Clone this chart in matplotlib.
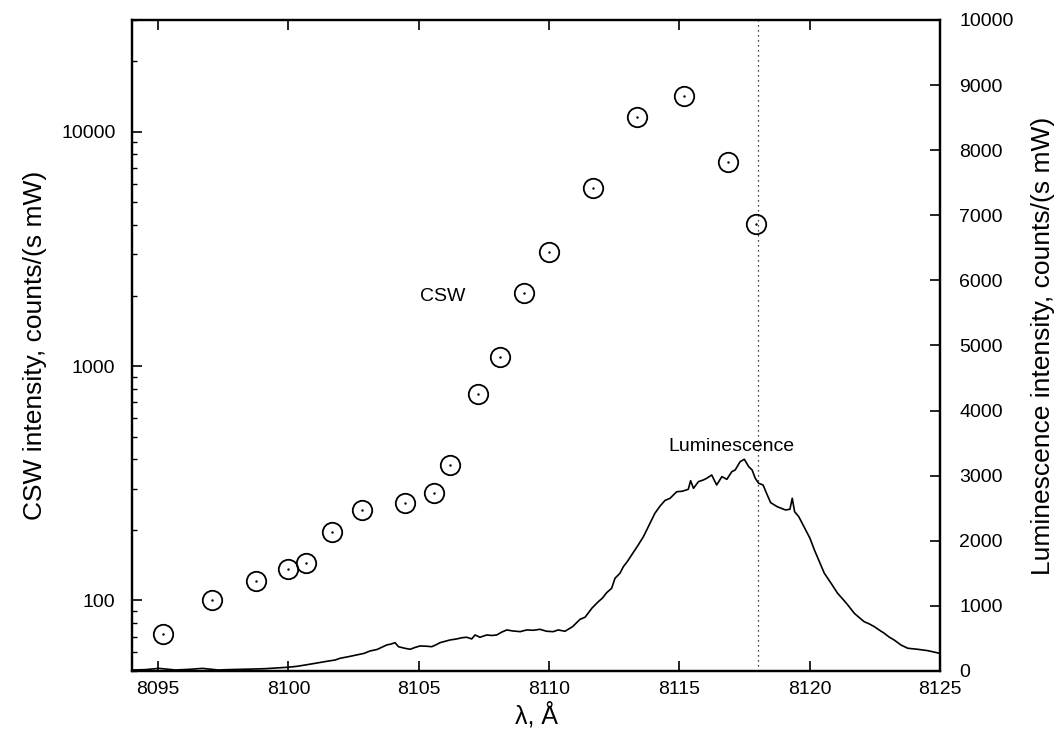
import matplotlib
matplotlib.use("Agg")
import matplotlib.pyplot as plt
from matplotlib.ticker import LogLocator, NullFormatter, FixedLocator

plt.rcParams['font.family'] = ['Liberation Sans', 'DejaVu Sans']

# CSW points (wavelength in A, intensity in counts/(s mW))
csw_wl = [8095.20, 8097.08, 8098.75, 8100.00, 8100.67, 8101.69, 8102.81, 8104.47,
          8105.59, 8106.20, 8107.27, 8108.12, 8109.03, 8110.00, 8111.67, 8113.36,
          8115.18, 8116.85, 8117.94]
csw_val = [72, 100, 121, 136, 145, 195, 243, 261,
           288, 379, 763, 1092, 2059, 3070, 5744, 11610,
           14230, 7440, 4055]

# luminescence spectrum, traced
lum_wl = [8094.0, 8094.5, 8095.03, 8095.66, 8096.2, 8096.7, 8097.3, 8097.8, 8098.2, 8098.7,
          8099.1, 8099.5, 8099.97, 8100.3, 8100.65, 8101.16, 8101.5, 8101.8, 8101.98, 8102.31,
          8102.62, 8102.9, 8103.13, 8103.4, 8103.58, 8103.77, 8103.95, 8104.09, 8104.22, 8104.45,
          8104.67, 8104.85, 8105.05, 8105.3, 8105.5, 8105.65, 8105.82, 8106.0, 8106.2, 8106.46,
          8106.65, 8106.84, 8107.03, 8107.16, 8107.35, 8107.61, 8107.8, 8107.99, 8108.2, 8108.38,
          8108.6, 8108.89, 8109.14, 8109.4, 8109.65, 8109.9, 8110.16, 8110.35, 8110.61, 8110.9,
          8111.19, 8111.38, 8111.64, 8111.89, 8112.05, 8112.21, 8112.4, 8112.53, 8112.72, 8112.85,
          8113.0, 8113.17, 8113.42, 8113.62, 8113.87, 8114.06, 8114.26, 8114.45, 8114.64, 8114.9,
          8115.1, 8115.34, 8115.43, 8115.54, 8115.73, 8115.92, 8116.05, 8116.24, 8116.43, 8116.63,
          8116.82, 8117.01, 8117.14, 8117.33, 8117.49, 8117.66, 8117.79, 8117.91, 8118.04, 8118.21,
          8118.37, 8118.5, 8118.75, 8119.07, 8119.24, 8119.33, 8119.42, 8119.58, 8119.78, 8120.01,
          8120.18, 8120.4, 8120.56, 8120.82, 8121.07, 8121.3, 8121.46, 8121.71, 8121.9, 8122.09,
          8122.3, 8122.48, 8122.7, 8122.86, 8123.05, 8123.24, 8123.5, 8123.76, 8124.14, 8124.53,
          8124.97]
lum_val = [15, 20, 40, 15, 25, 40, 15, 22, 25, 30,
           35, 45, 57, 70, 92, 127, 150, 169, 195, 220,
           246, 270, 307, 330, 364, 399, 415, 435, 373, 350,
           333, 360, 384, 380, 373, 400, 435, 455, 476, 492,
           510, 518, 492, 553, 518, 553, 545, 553, 600, 630,
           615, 604, 630, 625, 640, 610, 604, 630, 610, 680,
           794, 825, 963, 1065, 1120, 1203, 1270, 1424, 1501, 1602,
           1680, 1782, 1935, 2063, 2269, 2422, 2534, 2620, 2652, 2754,
           2760, 2790, 2923, 2806, 2908, 2934, 2960, 3010, 2857, 2985,
           2944, 3061, 3087, 3215, 3252, 3138, 3087, 2960, 2883, 2857,
           2704, 2586, 2524, 2473, 2484, 2653, 2447, 2370, 2216, 2038,
           1858, 1650, 1501, 1347, 1193, 1090, 1014, 886, 820, 757,
           720, 680, 620, 579, 520, 476, 399, 349, 333, 312,
           272]

marker_line = 8118.0

fig = plt.figure(figsize=(10.64, 7.37), dpi=100)
ax = fig.add_axes([0.1241, 0.0896, 0.7594, 0.8833])
ax2 = ax.twinx()

ax.set_yscale('log')
ax.set_xlim(8094, 8125)
ax.set_ylim(50, 30000)
ax2.set_ylim(0, 10000)

ax2.plot(lum_wl, lum_val, color='black', lw=1.2)
ax.axvline(marker_line, color='black', lw=0.9, ls=(0, (1, 3)))
ax.plot(csw_wl, csw_val, 'o', ms=14, mfc='none', mec='black', mew=1.3)
ax.plot(csw_wl, csw_val, '.', ms=1.5, color='black')

ax.set_xticks([8095, 8100, 8105, 8110, 8115, 8120, 8125])
ax.yaxis.set_major_locator(FixedLocator([100, 1000, 10000]))
ax.yaxis.set_minor_locator(LogLocator(base=10, subs=range(2, 10)))
ax.yaxis.set_minor_formatter(NullFormatter())
ax.set_yticklabels(['100', '1000', '10000'])
ax2.set_yticks(range(0, 10001, 1000))

ax.tick_params(axis='both', which='major', direction='in', length=7, width=1.2, labelsize=14)
ax.tick_params(axis='y', which='major', pad=12)
ax.tick_params(axis='y', which='minor', direction='in', length=3.5, width=1.0)
ax.tick_params(axis='x', which='both', top=True, pad=7)
ax2.tick_params(axis='y', direction='in', length=7, width=1.2, labelsize=14, pad=14)
for a in (ax, ax2):
    for s in a.spines.values():
        s.set_linewidth(1.6)

ax.set_xlabel('λ, Å', fontsize=18, labelpad=3)
ax.set_ylabel('CSW intensity, counts/(s mW)', fontsize=19, labelpad=10)
ax2.set_ylabel('Luminescence intensity, counts/(s mW)', fontsize=19, labelpad=12)

ax.text(8105.9, 1974, 'CSW', fontsize=14, ha='center', va='center')
ax2.text(8117.0, 3450, 'Luminescence', fontsize=14, ha='center', va='center')

fig.savefig('out.png', dpi=100)
